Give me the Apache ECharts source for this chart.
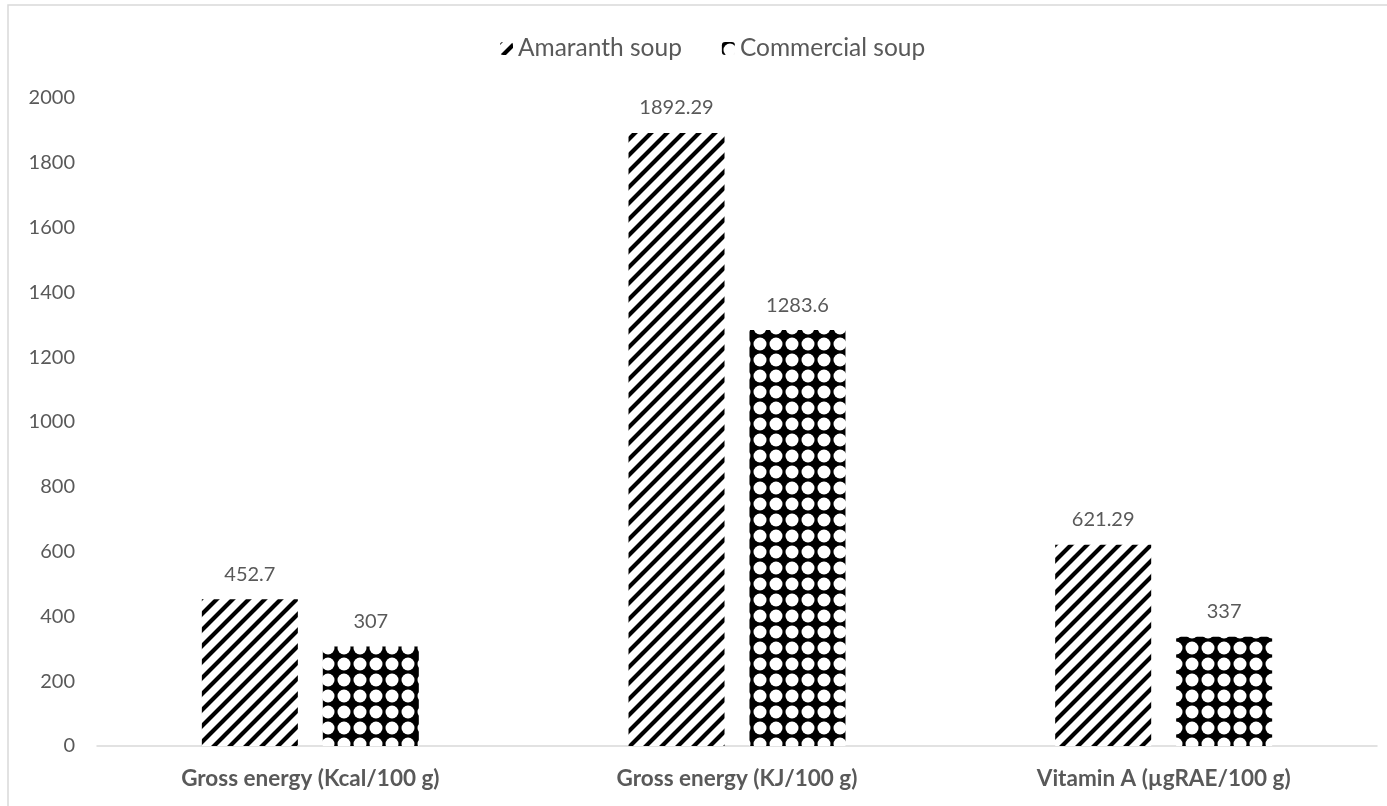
<!DOCTYPE html>
<html>
<head>
<meta charset="utf-8">
<script src="https://cdn.jsdelivr.net/npm/echarts@6/dist/echarts.min.js"></script>
<style>
html,body{margin:0;padding:0;background:#fff;}
#c{width:1387px;height:806px;}
</style>
</head>
<body>
<div id="c"></div>
<script>
const categories = ['Gross energy (Kcal/100 g)', 'Gross energy (KJ/100 g)', 'Vitamin A (\u00b5gRAE/100 g)'];
const seriesNames = ['Amaranth soup', 'Commercial soup'];
const amaranth = [452.7, 1892.29, 621.29];
const commercial = [307, 1283.6, 337];
const amaranthLabels = ['452.7', '1892.29', '621.29'];
const commercialLabels = ['307', '1283.6', '337'];

function hatchPattern() {
  const s = 16;
  const c = document.createElement('canvas');
  c.width = s; c.height = s;
  const ctx = c.getContext('2d');
  ctx.fillStyle = '#fff';
  ctx.fillRect(0, 0, s, s);
  ctx.strokeStyle = '#000';
  ctx.lineWidth = 4.2;
  ctx.beginPath();
  ctx.moveTo(-s, s * 2); ctx.lineTo(s * 2, -s);
  ctx.moveTo(-s, s); ctx.lineTo(s, -s);
  ctx.moveTo(0, s * 2); ctx.lineTo(s * 2, 0);
  ctx.stroke();
  return c;
}
function dotPattern() {
  const s = 16;
  const c = document.createElement('canvas');
  c.width = s; c.height = s;
  const ctx = c.getContext('2d');
  ctx.fillStyle = '#000';
  ctx.fillRect(0, 0, s, s);
  ctx.fillStyle = '#fff';
  ctx.beginPath();
  ctx.arc(s / 2, s / 2, 6.5, 0, Math.PI * 2);
  ctx.fill();
  return c;
}

const chart = echarts.init(document.getElementById('c'), null, {renderer: 'canvas'});
const font = 'Lato, "Liberation Sans", sans-serif';
const txt = '#595959';
const option = {
  animation: false,
  backgroundColor: '#fff',
  textStyle: {fontFamily: font},
  graphic: [{
    type: 'rect', shape: {x: 8, y: 5, width: 1420, height: 860},
    style: {fill: 'none', stroke: '#d9d9d9', lineWidth: 1.5}, silent: true, z: -1
  }],
  legend: {
    top: 31, left: 495, itemWidth: 13, itemHeight: 13, itemGap: 40,
    textStyle: {color: txt, fontSize: 24.5, fontFamily: font},
    data: seriesNames
  },
  grid: {left: 97, right: 10, top: 98, bottom: 60},
  xAxis: {
    type: 'category', data: categories,
    axisLine: {lineStyle: {color: '#d9d9d9', width: 1.5}},
    axisTick: {show: false},
    axisLabel: {color: txt, fontSize: 22.5, fontWeight: 'bold', margin: 21, fontFamily: font}
  },
  yAxis: {
    type: 'value', min: 0, max: 2000, interval: 200,
    axisLine: {show: false}, axisTick: {show: false}, splitLine: {show: false},
    axisLabel: {color: txt, fontSize: 20, margin: 22, fontFamily: font, formatter: v => String(v)}
  },
  series: [{
    name: seriesNames[0], type: 'bar', data: amaranth, barWidth: 96, barGap: '26%',
    itemStyle: {color: {image: hatchPattern(), repeat: 'repeat'}},
    label: {show: true, position: 'top', distance: 15, color: txt, fontSize: 20, fontFamily: font,
      formatter: p => amaranthLabels[p.dataIndex]}
  }, {
    name: seriesNames[1], type: 'bar', data: commercial, barWidth: 96,
    itemStyle: {color: {image: dotPattern(), repeat: 'repeat'}},
    label: {show: true, position: 'top', distance: 15, color: txt, fontSize: 20, fontFamily: font,
      formatter: p => commercialLabels[p.dataIndex]}
  }]
};
chart.setOption(option);
</script>
</body>
</html>
